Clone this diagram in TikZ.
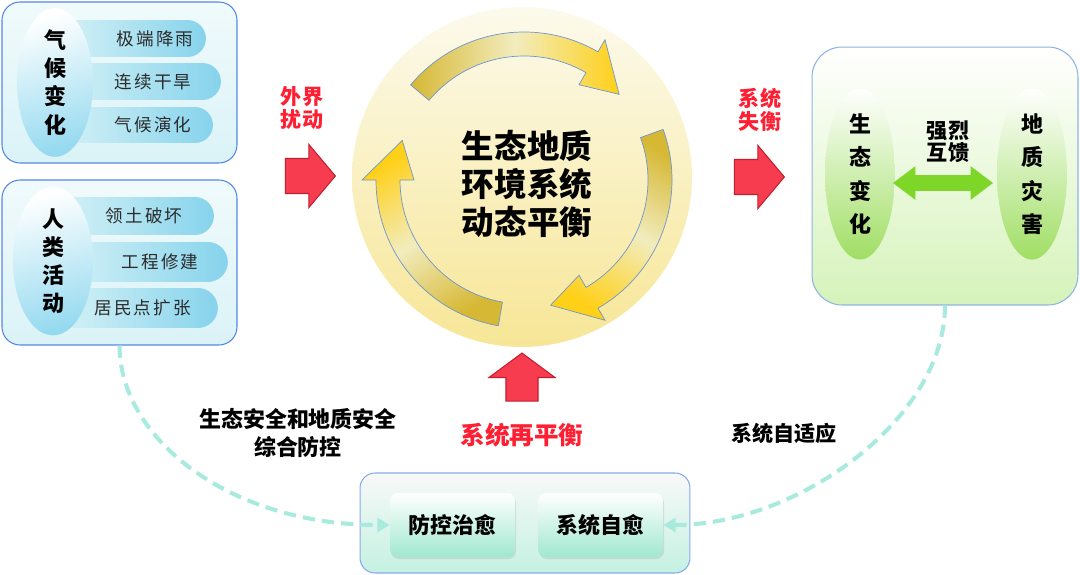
\documentclass[tikz,border=0pt]{standalone}
\usepackage{fontspec}
\setmainfont{Noto Sans CJK SC}
\newfontfamily\spaced{Noto Sans CJK SC}[LetterSpace=12]
\usetikzlibrary{shapes.geometric, shapes.misc, shapes.arrows, arrows.meta, positioning, shadows}
\definecolor{boxblue}{RGB}{84, 134, 232}
\definecolor{iceblue}{RGB}{218, 243, 247}
\definecolor{pillleft}{RGB}{212, 241, 246}
\definecolor{pillright}{RGB}{134, 211, 236}
\definecolor{ellcyan}{RGB}{150, 218, 240}
\definecolor{sunpale}{RGB}{252, 250, 236}
\definecolor{sunyellow}{RGB}{247, 230, 150}
\definecolor{cyclegold}{RGB}{214, 184, 52}
\definecolor{cycleyellow}{RGB}{255, 208, 24}
\definecolor{cyclepale}{RGB}{242, 236, 190}
\definecolor{cycleline}{RGB}{110, 150, 210}
\definecolor{alarmred}{RGB}{255, 30, 50}
\definecolor{blockred}{RGB}{246, 60, 78}
\definecolor{blockdark}{RGB}{196, 30, 48}
\definecolor{leafgreen}{RGB}{126, 214, 40}
\definecolor{meadow}{RGB}{214, 243, 186}
\definecolor{ellgreen}{RGB}{160, 222, 100}
\definecolor{softblue}{RGB}{140, 180, 228}
\definecolor{mint}{RGB}{168, 234, 222}
\definecolor{mintdeep}{RGB}{160, 232, 208}
\definecolor{mintpale}{RGB}{196, 241, 226}
\definecolor{inkgray}{RGB}{43, 43, 43}

\begin{document}
\begin{tikzpicture}[x=0.02cm, y=-0.02cm,
    panel/.style={rectangle, draw=boxblue, line width=0.6pt, rounded corners=0.36cm,
                  top color=white!60!iceblue, bottom color=iceblue, inner sep=0pt},
    pill/.style={rounded rectangle, rounded rectangle west arc=none, inner sep=0pt,
                 left color=pillleft, right color=pillright, text=inkgray,
                 font=\spaced\fontsize{10}{12}\selectfont},
    capsule/.style={ellipse, inner sep=0pt, top color=white, bottom color=ellcyan,
                    shading angle=15, align=center,
                    font=\bfseries\fontsize{12.5}{16}\selectfont},
    leaf/.style={ellipse, inner sep=0pt, top color=white, bottom color=ellgreen,
                 minimum width=1.4cm, minimum height=3.36cm, align=center,
                 font=\bfseries\fontsize{12.5}{19}\selectfont},
    redlabel/.style={text=alarmred, align=center, font=\bfseries\fontsize{12}{13.5}\selectfont},
    note/.style={align=center, font=\bfseries\fontsize{12.5}{16}\selectfont},
    blockarrow/.style={single arrow, fill=blockred, draw=blockdark, line width=0.6pt,
                       inner xsep=0pt, inner ysep=0.34cm, single arrow head extend=0.28cm,
                       single arrow tip angle=100, minimum height=1cm},
    healbox/.style={rectangle, rounded corners=0.16cm, top color=white, bottom color=mintdeep,
                    minimum width=2.5cm, minimum height=1.28cm,
                    drop shadow={shadow xshift=0.6pt, shadow yshift=-1.2pt, opacity=0.18},
                    font=\bfseries\fontsize{12.5}{15}\selectfont},
    backlink/.style={draw=mint, line width=2.3pt, dash pattern=on 7pt off 4pt,
                     -{Triangle[length=7pt, width=8pt]}}
]
\useasboundingbox (0,0) rectangle (1080,575);

%% climate change
\node[panel, minimum width=4.7cm, minimum height=3.22cm] (climate) at (119.5,82.5) {};
\node[pill, minimum width=2.86cm, minimum height=0.74cm] (rain)    at (133.5,38.5) {\hspace*{0.86cm}极端降雨};
\node[pill, minimum width=3.16cm, minimum height=0.74cm] (drought) at (141,81.5)   {\hspace*{0.48cm}连续干旱};
\node[pill, minimum width=3.0cm,  minimum height=0.72cm] (evolve)  at (137,125)    {\hspace*{0.64cm}气候演化};
\node[capsule, minimum width=1.52cm, minimum height=2.78cm] (climate-c) at (55,82.5) {气\\候\\变\\化};

%% human activity
\node[panel, minimum width=4.7cm, minimum height=3.3cm] (human) at (119.5,262.5) {};
\node[pill, minimum width=3.02cm, minimum height=0.76cm] (land)   at (137.5,216) {\hspace*{0.26cm}领土破坏};
\node[pill, minimum width=3.3cm,  minimum height=0.8cm]  (build)  at (144.5,262) {\hspace*{0.62cm}工程修建};
\node[pill, minimum width=3.1cm,  minimum height=0.8cm]  (settle) at (139.5,308) {\hspace*{0.12cm}居民点扩张};
\node[capsule, minimum width=1.6cm, minimum height=2.64cm] (human-c) at (53,261) {人\\类\\活\\动};

%% disturbance
\node[redlabel] (disturb-l) at (302,108) {外界\\扰动};
\node[blockarrow] (disturb) at (303,176) {};

%% dynamic balance
\node[circle, inner sep=0pt, minimum size=6.8cm, top color=sunpale, bottom color=sunyellow] (balance) at (522,177) {};
\begin{scope}[shift={(524,180)}]
\foreach \b [evaluate=\b as \sa using -230-(\b)] in {-140,-20,100}
  \draw[cycleline, line width=0.4pt, top color=cycleyellow, bottom color=cyclegold,
        middle color=cyclepale, shading angle=\sa]
    (\b:148) arc[start angle=\b, end angle=\b+80, radius=148]
    -- (\b+80:162) -- (\b+98:128) -- (\b+80:110) -- (\b+80:124)
    arc[start angle=\b+80, end angle=\b, radius=124] -- cycle;
\end{scope}
\node[align=center, font=\bfseries\fontsize{18.5}{21.5}\selectfont] (balance-t) at (527,184) {生态地质\\环境系统\\动态平衡};

%% imbalance
\node[redlabel] (imbalance-l) at (760,110) {系统\\失衡};
\node[blockarrow] (imbalance) at (752,177) {};

%% hazards
\node[panel, draw=softblue, rounded corners=0.6cm, top color=white, bottom color=meadow,
      minimum width=5.32cm, minimum height=5.16cm] (hazard) at (945,176) {};
\node[leaf] (eco) at (860,174) {生\\态\\变\\化};
\node[leaf] (geo) at (1032,174) {地\\质\\灾\\害};
\node[note, font=\bfseries\fontsize{12}{12.5}\selectfont] (feedback-l) at (948,142) {强烈\\互馈};
\node[double arrow, fill=leafgreen, inner xsep=0pt, inner ysep=0.15cm,
      double arrow head extend=0.18cm, double arrow tip angle=74,
      minimum height=2cm] (feedback) at (943,183) {};

%% rebalance
\node[blockarrow, shape border rotate=90, inner xsep=0.31cm, inner ysep=0pt, single arrow head extend=0.34cm,
      single arrow tip angle=107, minimum height=0.96cm] (rebalance) at (522,383) {};
\node[redlabel, font=\bfseries\fontsize{14}{16}\selectfont] (rebalance-l) at (522,435) {系统再平衡};

%% healing
\node[panel, draw=boxblue!70, rounded corners=0.3cm, top color=gray!5, bottom color=mintpale,
      minimum width=6.6cm, minimum height=2.0cm] (heal) at (525,523) {};
\node[healbox] (cure) at (452.5,525) {防控治愈};
\node[healbox] (selfheal) at (600.5,525) {系统自愈};

%% feedback loops
\draw[backlink] (human.south) .. controls +(0,93) and +(-160,0) .. (cure.west);
\draw[backlink] (hazard.south) .. controls +(0,113) and +(135,0) .. (selfheal.east);
\node[note] (control-l) at (298,433) {生态安全和地质安全\\综合防控};
\node[note, font=\bfseries\fontsize{12}{14}\selectfont] (adapt-l) at (784,433) {系统自适应};

\end{tikzpicture}
\end{document}
